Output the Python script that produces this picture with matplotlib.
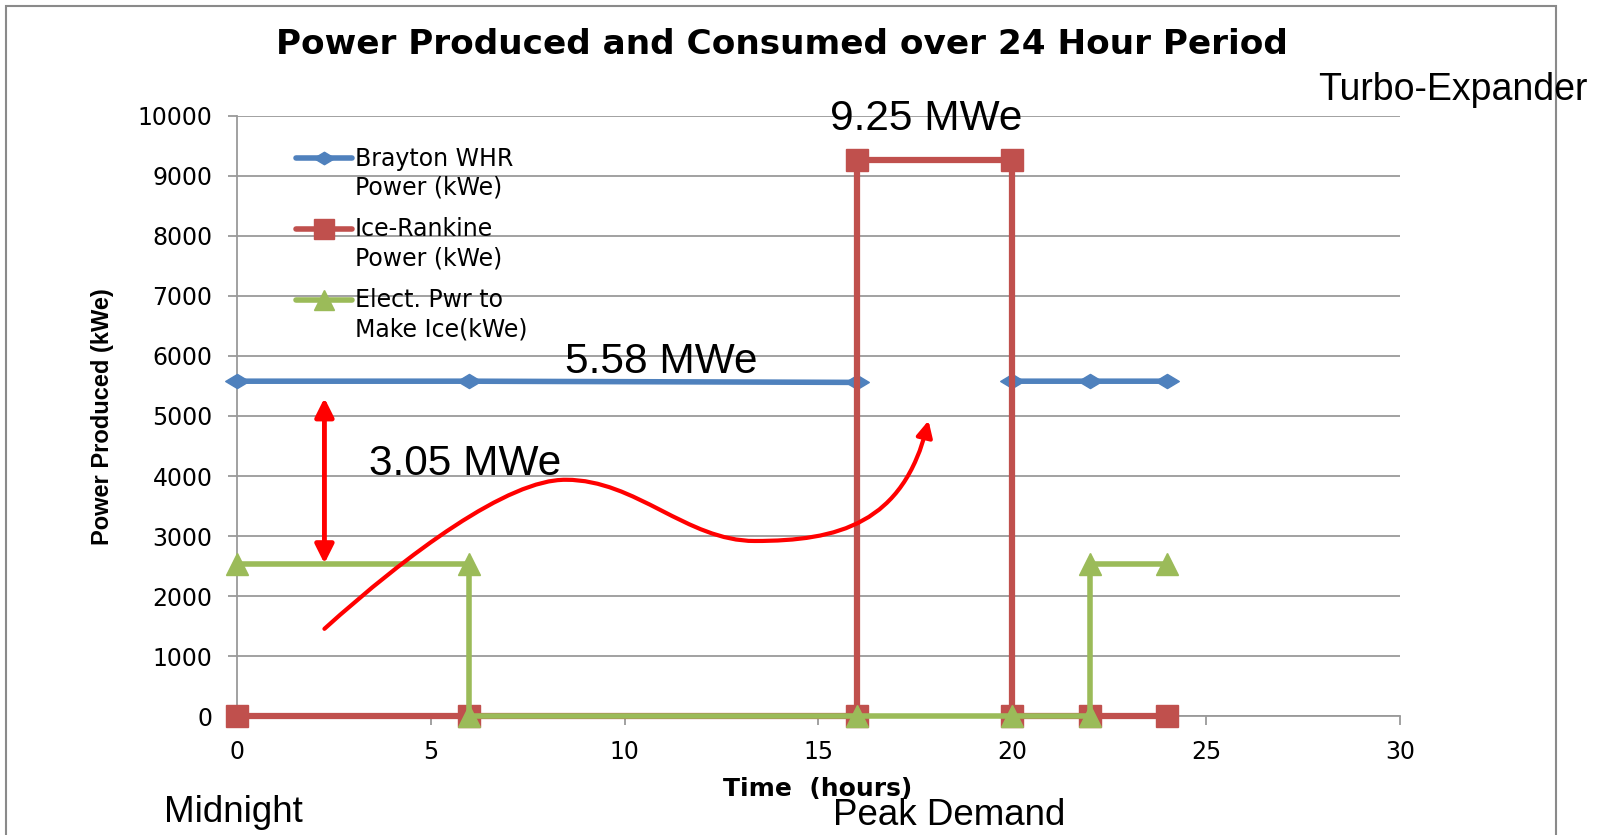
import numpy as np
import matplotlib
matplotlib.use("Agg")
import matplotlib.pyplot as plt
from matplotlib.path import Path
from matplotlib.patches import FancyArrowPatch, Rectangle
from matplotlib.lines import Line2D

# ---- data ----
hours_brayton = [0, 6, 16, np.nan, 20, 22, 24]
brayton_kwe = [5580, 5580, 5560, np.nan, 5580, 5580, 5580]
hours_rankine = [0, 6, 16, 16, 20, 20, 22, 24]
rankine_kwe = [0, 0, 0, 9260, 9260, 0, 0, 0]
hours_ice = [0, 6, 6, 16, 20, 22, 22, 24]
ice_kwe = [2530, 2530, 0, 0, 0, 0, 2530, 2530]
series_labels = ["Brayton WHR\nPower (kWe)", "Ice-Rankine\nPower (kWe)", "Elect. Pwr to\nMake Ice(kWe)"]
x_ticks = [0, 5, 10, 15, 20, 25, 30]
y_ticks = list(range(0, 10001, 1000))

BLUE = "#4F81BD"
RED = "#C0504D"
GREEN = "#9BBB59"
GRID = "#9a9a9a"

diamond = Path([(-1, 0), (0, 0.6), (1, 0), (0, -0.6), (-1, 0)],
               [Path.MOVETO, Path.LINETO, Path.LINETO, Path.LINETO, Path.CLOSEPOLY])

fig = plt.figure(figsize=(16, 8.35), dpi=100)
ax = fig.add_axes([0.148, 0.1425, 0.727, 0.7186])

ax.set_xlim(0, 30)
ax.set_ylim(0, 10000)
ax.set_xticks(x_ticks)
ax.set_yticks(y_ticks)
ax.grid(axis="y", color=GRID, lw=1.3)
ax.set_axisbelow(True)
for s in ["top", "right"]:
    ax.spines[s].set_visible(False)
for s in ["left", "bottom"]:
    ax.spines[s].set_color(GRID)
    ax.spines[s].set_linewidth(1.3)
ax.tick_params(axis="both", colors=GRID, length=6.5, width=1.3, labelcolor="black",
               labelsize=17, pad=11)
for lab in ax.get_xticklabels() + ax.get_yticklabels():
    lab.set_family("DejaVu Sans")

ax.plot(hours_brayton, brayton_kwe, color=BLUE, lw=4, marker=diamond, ms=17,
        clip_on=False, zorder=3)
ax.plot(hours_rankine, rankine_kwe, color=RED, lw=4.5, marker="s", ms=16,
        clip_on=False, zorder=4)
ax.plot(hours_ice, ice_kwe, color=GREEN, lw=4, marker="^", ms=16,
        clip_on=False, zorder=5)

# manual legend (handle aligned with first text line)
leg_styles = [(BLUE, diamond, 15), (RED, "s", 14), (GREEN, "^", 14)]
leg_y = [0.930, 0.812, 0.694]
for (c, m, ms), yy, lab in zip(leg_styles, leg_y, series_labels):
    ax.add_line(Line2D([0.0507, 0.0989], [yy, yy], transform=ax.transAxes, color=c,
                       lw=4, solid_capstyle="round", clip_on=False, zorder=6))
    ax.add_line(Line2D([0.0748], [yy], transform=ax.transAxes, color=c, marker=m,
                       ms=ms, clip_on=False, zorder=7))
    ax.text(0.1015, yy + 0.019, lab, transform=ax.transAxes, fontsize=17,
            family="DejaVu Sans", va="top", ha="left", linespacing=1.28, zorder=7)

# annotations
ax.text(10.94, 5900, "5.58 MWe", fontsize=30.5, family="Liberation Sans",
        ha="center", va="center", zorder=8)
ax.text(17.77, 9943, "9.25 MWe", fontsize=30.5, family="Liberation Sans",
        ha="center", va="center", zorder=8)
ax.text(5.89, 4192, "3.05 MWe", fontsize=30.5, family="Liberation Sans",
        ha="center", va="center", zorder=8)

ax.annotate("", xy=(2.26, 2540), xytext=(2.26, 5300),
            arrowprops=dict(arrowstyle="<|-|>", color="red", lw=3.5,
                            mutation_scale=28, shrinkA=0, shrinkB=0), zorder=8)

verts = [(2.26, 1453), (4.4, 2700), (7.0, 3950), (8.49, 3937),
         (10.3, 3937), (11.6, 2917), (13.36, 2917),
         (15.5, 2917), (17.2, 3200), (17.84, 4924)]
codes = [Path.MOVETO] + [Path.CURVE4] * 9
curve = FancyArrowPatch(path=Path(verts, codes), arrowstyle="-|>", color="red",
                        lw=3, mutation_scale=24, zorder=8)
ax.add_patch(curve)

# titles and labels
fig.text(0.4885, 0.947, "Power Produced and Consumed over 24 Hour Period",
         fontsize=24.7, fontweight="bold", family="DejaVu Sans", ha="center", va="center")
fig.text(0.511, 0.055, "Time  (hours)", fontsize=18, fontweight="bold",
         family="DejaVu Sans", ha="center", va="center")
fig.text(0.064, 0.5013, "Power Produced (kWe)", fontsize=17, fontweight="bold",
         family="Liberation Sans", ha="center", va="center", rotation=90)
fig.text(0.824, 0.892, "Turbo-Expander", fontsize=27, family="Liberation Sans",
         ha="left", va="center")
fig.text(0.146, 0.0268, "Midnight", fontsize=26.5, family="Liberation Sans",
         ha="center", va="center")
fig.text(0.593, 0.0232, "Peak Demand", fontsize=26.5, family="Liberation Sans",
         ha="center", va="center")

# outer frame
fig.patches.append(Rectangle((5.7 / 1600, -0.05), (1556 - 5.7) / 1600, 1.05 - 5.7 / 835,
                             transform=fig.transFigure, fill=False, ec="#8a8a8a", lw=1.5))

fig.savefig("out.png", dpi=100)
